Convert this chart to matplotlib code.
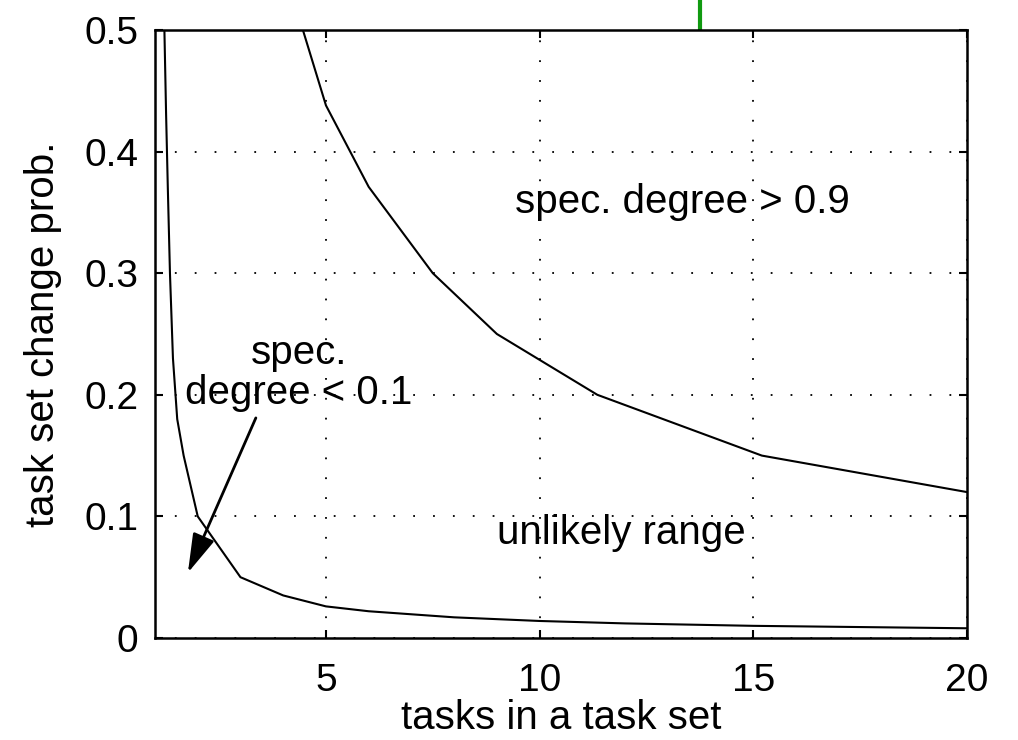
import matplotlib
matplotlib.use("Agg")
import matplotlib.pyplot as plt

plt.rcParams['font.family'] = ['Liberation Sans', 'DejaVu Sans']

# lower curve: spec. degree < 0.1 boundary
low_x = [1.22, 1.26, 1.30, 1.35, 1.42, 1.52, 1.67, 2, 3, 4, 5, 6, 8, 10, 12, 15, 20]
low_y = [0.50, 0.43, 0.37, 0.30, 0.23, 0.18, 0.15, 0.10, 0.05, 0.035, 0.026, 0.022, 0.017, 0.014, 0.012, 0.010, 0.008]

# upper curve: spec. degree > 0.9 boundary
up_x = [4.0, 5, 6, 7.5, 9, 11.35, 15.2, 20]
up_y = [0.553, 0.438, 0.371, 0.30, 0.25, 0.20, 0.15, 0.12]

x_ticks = [5, 10, 15, 20]
y_ticks = [0, 0.1, 0.2, 0.3, 0.4, 0.5]
y_ticklabels = ['0', '0.1', '0.2', '0.3', '0.4', '0.5']

FS = 29

fig = plt.figure(figsize=(10.18, 7.40), dpi=100)
ax = fig.add_axes([155/1018, 102/740, (967-155)/1018, (638-30)/740])

ax.plot(low_x, low_y, color='black', lw=1.5)
ax.plot(up_x, up_y, color='black', lw=1.5)

# partial green line visible above the axes
ax.plot([13.76, 13.76], [0.5, 0.56], color='#109a10', lw=3, clip_on=False,
        solid_capstyle='butt')

ax.set_xlim(1, 20)
ax.set_ylim(0, 0.5)
ax.set_xticks(x_ticks)
ax.set_xticklabels([str(v) for v in x_ticks])
ax.set_yticks(y_ticks)
ax.set_yticklabels(y_ticklabels)

ax.tick_params(direction='in', length=6, width=1.5, top=True, right=True,
               labelsize=FS - 1, pad=12)
ax.tick_params(axis='x', pad=18)
for s in ax.spines.values():
    s.set_linewidth(1.8)

ax.set_axisbelow(False)
ax.grid(True, color='black', lw=1.3, linestyle=(0, (1, 10)))

ax.set_xlabel('tasks in a task set', fontsize=FS, labelpad=0)
ax.set_ylabel('task set change prob.', fontsize=FS, labelpad=16)

ax.text(13.35, 0.3586, 'spec. degree > 0.9', fontsize=FS, ha='center', va='center', zorder=2)
ax.text(11.91, 0.0863, 'unlikely range', fontsize=FS, ha='center', va='center', zorder=2)
ax.text(4.37, 0.218, 'spec.\ndegree < 0.1', fontsize=FS, ha='center', va='center',
        linespacing=1.08, zorder=2)

ax.annotate('', xy=(1.77, 0.0537), xytext=(3.36, 0.181),
            arrowprops=dict(arrowstyle='-|>,head_length=2.4,head_width=0.7',
                            color='black', lw=2, shrinkA=0, shrinkB=0))

fig.savefig('out.png', dpi=100)
